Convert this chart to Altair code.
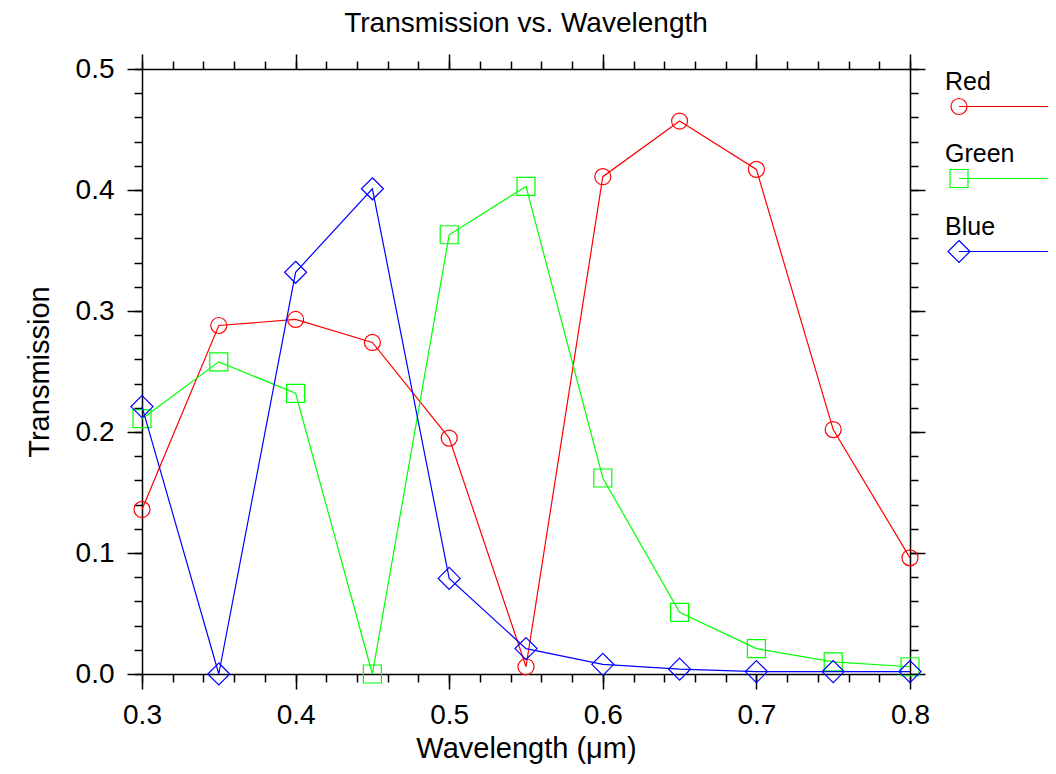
import altair as alt
import pandas as pd

# ---- data ----
wavelength = [0.30, 0.35, 0.40, 0.45, 0.50, 0.55, 0.60, 0.65, 0.70, 0.75, 0.80]
red = [0.136, 0.288, 0.293, 0.274, 0.195, 0.006, 0.411, 0.457, 0.417, 0.202, 0.096]
green = [0.211, 0.258, 0.232, 0.000, 0.363, 0.403, 0.162, 0.051, 0.021, 0.010, 0.006]
blue = [0.221, 0.000, 0.332, 0.401, 0.079, 0.021, 0.008, 0.004, 0.002, 0.002, 0.002]

series_names = ["Red", "Green", "Blue"]
series_colors = ["#ff0000", "#00ff00", "#0000ff"]

x_major = [0.3, 0.4, 0.5, 0.6, 0.7, 0.8]
x_minor = [0.30, 0.32, 0.34, 0.36, 0.38, 0.40, 0.42, 0.44, 0.46, 0.48, 0.50, 0.52, 0.54,
           0.56, 0.58, 0.60, 0.62, 0.64, 0.66, 0.68, 0.70, 0.72, 0.74, 0.76, 0.78, 0.80]
y_major = [0.0, 0.1, 0.2, 0.3, 0.4, 0.5]
y_minor = [0.00, 0.02, 0.04, 0.06, 0.08, 0.10, 0.12, 0.14, 0.16, 0.18, 0.20, 0.22, 0.24,
           0.26, 0.28, 0.30, 0.32, 0.34, 0.36, 0.38, 0.40, 0.42, 0.44, 0.46, 0.48, 0.50]

rows = []
for name, vals in zip(series_names, [red, green, blue]):
    for w, v in zip(wavelength, vals):
        rows.append({"wavelength": w, "transmission": v, "series": name})
df = pd.DataFrame(rows)

# ---- styling ----
FONT = "Liberation Sans"
W, H = 768, 605

# marker paths (unit square scaled by sqrt(size)/2 = 11px)
marker_paths = [
    "M0.727,0A0.727,0.727,0,1,1,-0.727,0A0.727,0.727,0,1,1,0.727,0Z",
    "M-0.818,-0.818L0.818,-0.818L0.818,0.818L-0.818,0.818Z",
    "M0,-1L1,0L0,1L-1,0Z",
]
# legend symbols: marker shifted right/below the label, with a line tail to the right
MX = 2.41
DY = 1.545
TX = MX + 8.6
legend_paths = [
    f"M{MX+0.727},{DY}A0.727,0.727,0,1,1,{MX-0.727},{DY}A0.727,0.727,0,1,1,{MX+0.727},{DY}Z M{MX},{DY}L{TX},{DY}",
    f"M{MX-0.818},{DY-0.818}L{MX+0.818},{DY-0.818}L{MX+0.818},{DY+0.818}L{MX-0.818},{DY+0.818}Z M{MX},{DY}L{TX},{DY}",
    f"M{MX},{DY-1}L{MX+1},{DY}L{MX},{DY+1}L{MX-1},{DY}Z M{MX},{DY}L{TX},{DY}",
]

xscale = alt.Scale(domain=[0.3, 0.8], nice=False, zero=False)
yscale = alt.Scale(domain=[0.0, 0.5], nice=False, zero=False)
color_scale = alt.Scale(domain=series_names, range=series_colors)

common = dict(tickColor="black", tickWidth=1.5, grid=False, domainColor="black",
              domainWidth=1.5, labelFlush=False, labelOverlap=False)


def major_x(orient, labels):
    kw = dict(orient=orient, values=x_major, tickSize=15, domain=True, labels=labels, **common)
    if labels:
        kw.update(format=".1f", labelFont=FONT, labelFontSize=28, labelColor="black",
                  labelBaseline="alphabetic", labelPadding=34,
                  title="Wavelength (\u03bcm)", titleFont=FONT, titleFontSize=29,
                  titleFontWeight="normal", titleColor="black", titleX=W / 2, titleY=83,
                  titleBaseline="alphabetic", titleAlign="center")
    else:
        kw.update(title=None)
    return alt.Axis(**kw)


def minor_x(orient):
    return alt.Axis(orient=orient, values=x_minor, tickSize=8, domain=False, labels=False,
                    title=None, **common)


def major_y(orient, labels):
    kw = dict(orient=orient, values=y_major, tickSize=15, domain=True, labels=labels, **common)
    if labels:
        kw.update(format=".1f", labelFont=FONT, labelFontSize=28, labelColor="black",
                  labelBaseline="middle", labelPadding=13,
                  title="Transmission", titleFont=FONT, titleFontSize=29,
                  titleFontWeight="normal", titleColor="black", titleX=-94, titleY=H / 2,
                  titleAngle=270, titleBaseline="alphabetic", titleAlign="center")
    else:
        kw.update(title=None)
    return alt.Axis(**kw)


def minor_y(orient):
    return alt.Axis(orient=orient, values=y_minor, tickSize=8, domain=False, labels=False,
                    title=None, **common)


base = alt.Chart(df)

# axes are spread over the layers (major/minor ticks on all four sides)
axis_sets = [
    (major_x("bottom", True), major_y("left", True)),
    (minor_x("bottom"), minor_y("left")),
    (major_x("top", False), major_y("right", False)),
    (minor_x("top"), minor_y("right")),
    (None, None),
    (None, None),
]

layers = []
k = 0
for name, col, path in zip(series_names, series_colors, marker_paths):
    sub = base.transform_filter(alt.datum.series == name)
    ax_x, ax_y = axis_sets[k]
    layers.append(
        sub.mark_line(stroke=col, strokeWidth=1.2).encode(
            x=alt.X("wavelength:Q", scale=xscale, axis=ax_x),
            y=alt.Y("transmission:Q", scale=yscale, axis=ax_y),
        )
    )
    ax_x, ax_y = axis_sets[k + 1]
    layers.append(
        sub.mark_point(shape=path, size=484, filled=False, stroke=col, strokeWidth=1.2, opacity=1)
        .encode(
            x=alt.X("wavelength:Q", scale=xscale, axis=ax_x),
            y=alt.Y("transmission:Q", scale=yscale, axis=ax_y),
        )
    )
    k = min(k + 2, 4)

legend_layer = base.mark_point(size=484, filled=False, opacity=0).encode(
    x=alt.X("wavelength:Q", scale=xscale, axis=None),
    y=alt.Y("transmission:Q", scale=yscale, axis=None),
    color=alt.Color(
        "series:N", scale=color_scale,
        legend=alt.Legend(
            orient="none", legendX=778, legendY=8, title=None, padding=0,
            labelFont=FONT, labelFontSize=25, labelColor="black", labelBaseline="alphabetic",
            labelOffset=0, symbolOffset=0, symbolSize=484, symbolStrokeWidth=1.2,
            symbolOpacity=1, rowPadding=24, labelLimit=300,
        ),
    ),
    shape=alt.Shape("series:N", scale=alt.Scale(domain=series_names, range=legend_paths)),
)
layers.append(legend_layer)

chart = (
    alt.layer(*layers)
    .resolve_axis(x="independent", y="independent")
    .properties(
        width=W,
        height=H,
        title=alt.TitleParams("Transmission vs. Wavelength", font=FONT, fontSize=28,
                              fontWeight="normal", color="black", anchor="middle", offset=15),
        autosize=alt.AutoSizeParams(type="none"),
        padding={"left": 134, "top": 61, "right": 138, "bottom": 90},
    )
    .configure_view(stroke=None)
    .configure(background="white")
)

chart.save("out.html", embed_options={"renderer": "svg", "actions": False})
